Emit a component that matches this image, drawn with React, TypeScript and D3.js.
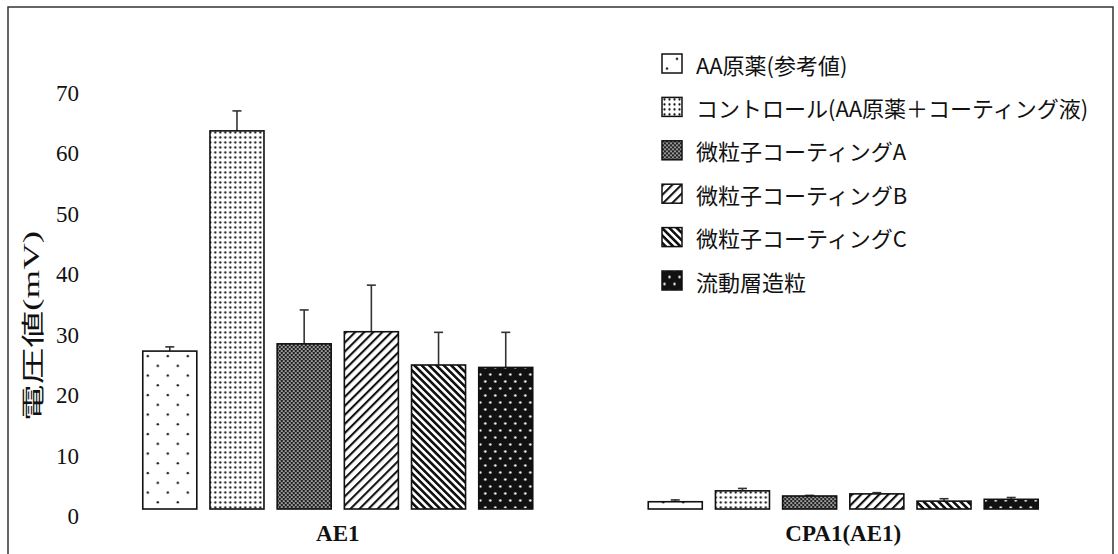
import React from "react";
import * as d3 from "d3";

const categories = ["AE1", "CPA1(AE1)"];
const seriesNames = [
  "AA原薬(参考値)",
  "コントロール(AA原薬＋コーティング液)",
  "微粒子コーティングA",
  "微粒子コーティングB",
  "微粒子コーティングC",
  "流動層造粒",
];
const valuesAE1 = [26.1, 62.5, 27.3, 29.3, 23.8, 23.4];
const errorsAE1 = [0.7, 3.3, 5.6, 7.7, 5.4, 5.8];
const valuesCPA1 = [1.2, 3.0, 2.15, 2.5, 1.3, 1.6];
const errorsCPA1 = [0.3, 0.4, 0.1, 0.2, 0.4, 0.3];
const yTicks = [0, 10, 20, 30, 40, 50, 60, 70];

const W = 1118;
const H = 554;

const patternIds = ["pAA", "pCtrl", "pA", "pB", "pC", "pFluid"];

export default function App() {
  const x0 = d3
    .scaleBand<string>()
    .domain(categories)
    .range([85, 1096])
    .paddingInner(0.2285)
    .paddingOuter(0.1143);
  const x1 = d3
    .scaleBand<string>()
    .domain(seriesNames)
    .range([0, x0.bandwidth()])
    .paddingInner(0.196)
    .paddingOuter(0);
  const y = d3.scaleLinear().domain([0, 70]).range([509, 85.5]);

  const data = [
    { cat: categories[0], values: valuesAE1, errors: errorsAE1 },
    { cat: categories[1], values: valuesCPA1, errors: errorsCPA1 },
  ];

  const legendY = d3.scaleLinear().domain([0, 5]).range([63.5, 280.5]);

  return (
    <svg
      width={W}
      height={H}
      style={{ position: "absolute", left: 0, top: 0, background: "#fff" }}
    >
      <defs>
        <pattern id="pAA" patternUnits="userSpaceOnUse" width={20} height={19.5}>
          <rect width={20} height={19.5} fill="#fff" />
          <circle cx={5} cy={5} r={1.2} fill="#111" />
          <circle cx={15} cy={14.75} r={1.2} fill="#111" />
        </pattern>
        <pattern id="pCtrl" patternUnits="userSpaceOnUse" width={5} height={5}>
          <rect width={5} height={5} fill="#fff" />
          <circle cx={2.5} cy={2.5} r={1.15} fill="#111" />
        </pattern>
        <pattern id="pA" patternUnits="userSpaceOnUse" width={4} height={4}>
          <rect width={4} height={4} fill="#222" />
          <circle cx={1} cy={1} r={0.85} fill="#fff" />
          <circle cx={3} cy={3} r={0.85} fill="#fff" />
        </pattern>
        <pattern
          id="pB"
          patternUnits="userSpaceOnUse"
          width={6.4}
          height={6.4}
          patternTransform="rotate(45)"
        >
          <rect width={6.4} height={6.4} fill="#fff" />
          <rect width={2.1} height={6.4} fill="#111" />
        </pattern>
        <pattern
          id="pC"
          patternUnits="userSpaceOnUse"
          width={5.2}
          height={5.2}
          patternTransform="rotate(-45)"
        >
          <rect width={5.2} height={5.2} fill="#fff" />
          <rect width={2.6} height={5.2} fill="#111" />
        </pattern>
        <pattern id="pFluid" patternUnits="userSpaceOnUse" width={10} height={14}>
          <rect width={10} height={14} fill="#111" />
          <circle cx={2.5} cy={3.5} r={1.2} fill="#fff" />
          <circle cx={7.5} cy={10.5} r={1.2} fill="#fff" />
        </pattern>
      </defs>

      {/* frame */}
      <rect
        x={8}
        y={7}
        width={1105}
        height={560}
        fill="none"
        stroke="#333"
        strokeWidth={1.5}
      />

      {/* y tick labels */}
      {yTicks.map((t) => (
        <text
          key={t}
          x={79}
          y={y(t) + 7.7}
          textAnchor="end"
          dominantBaseline="central"
          fontFamily="'Liberation Serif', 'Times New Roman', serif"
          fontSize={23}
          fill="#111"
        >
          {t}
        </text>
      ))}

      {/* y axis title */}
      <g transform="translate(31,326) rotate(-90)">
        <text
          x={0}
          y={0}
          textAnchor="middle"
          dominantBaseline="central"
          fontSize={23}
          fill="#111"
          textLength={190}
          lengthAdjust="spacingAndGlyphs"
        >
          <tspan fontFamily="'Noto Sans CJK JP', sans-serif">電圧値</tspan>
          <tspan fontFamily="'Liberation Serif', serif">(mV)</tspan>
        </text>
      </g>

      {/* bars */}
      {data.map((g) => (
        <g key={g.cat} transform={`translate(${x0(g.cat)},0)`}>
          {g.values.map((v, i) => {
            const bx = x1(seriesNames[i])!;
            const bw = x1.bandwidth();
            const top = y(v);
            const errTop = y(v + g.errors[i]);
            const cx = bx + bw / 2;
            return (
              <g key={i}>
                <line
                  x1={cx}
                  x2={cx}
                  y1={top}
                  y2={errTop}
                  stroke="#333"
                  strokeWidth={1.6}
                />
                <line
                  x1={cx - 4.5}
                  x2={cx + 4.5}
                  y1={errTop}
                  y2={errTop}
                  stroke="#333"
                  strokeWidth={1.6}
                />
                <rect
                  x={bx}
                  y={top}
                  width={bw}
                  height={y(0) - top}
                  fill={`url(#${patternIds[i]})`}
                  stroke="#111"
                  strokeWidth={1.6}
                />
              </g>
            );
          })}
          <text
            x={x0.bandwidth() / 2}
            y={541}
            textAnchor="middle"
            fontFamily="'Liberation Serif', 'Times New Roman', serif"
            fontWeight="bold"
            fontSize={23}
            fill="#111"
          >
            {g.cat}
          </text>
        </g>
      ))}

      {/* legend */}
      {seriesNames.map((s, i) => (
        <g key={s} transform={`translate(662,${legendY(i)})`}>
          <rect
            x={0}
            y={-9.5}
            width={20}
            height={19}
            fill={`url(#${patternIds[i]})`}
            stroke="#111"
            strokeWidth={1.5}
          />
          <text
            x={34}
            y={0}
            dominantBaseline="central"
            fontFamily="'Noto Sans CJK JP', sans-serif"
            fontSize={22}
            fill="#111"
          >
            {s}
          </text>
        </g>
      ))}
    </svg>
  );
}
